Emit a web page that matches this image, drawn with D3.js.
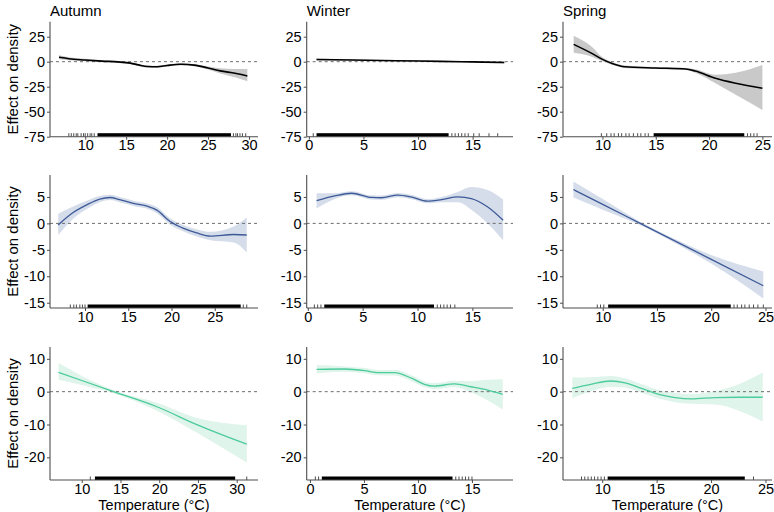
<!DOCTYPE html>
<html>
<head>
<meta charset="utf-8">
<script src="https://cdn.jsdelivr.net/npm/d3@7"></script>
<style>
  body { margin: 0; background: #fff; }
  svg { font-family: "Liberation Sans", Arial, sans-serif; }
</style>
</head>
<body>
<svg id="chart" width="774" height="512"></svg>
<script>
// season titles and row settings
const seasons = ['Autumn', 'Winter', 'Spring'];
const rowYTicks = [[-75, -50, -25, 0, 25], [-15, -10, -5, 0, 5], [-20, -10, 0, 10]];
const rowYDomain = [[-75, 40], [-16, 9.15], [-26.9, 13.6]];
const rowLine = ['#000000', '#3d5a98', '#4ccb9b'];
const rowBand = ['#c9c9c9', '#d5dcea', '#dff4ea'];

// x ticks per column / panel
const autumnTicks1 = [10, 15, 20, 25, 30];
const autumnTicks2 = [10, 15, 20, 25];
const winterTicks = [0, 5, 10, 15];
const springTicks = [10, 15, 20, 25];

// row 1
const a1T = [6.8, 8, 10, 12, 14, 15.5, 16.5, 17.6, 18.8, 20, 21.7, 23.3, 25, 26.5, 28.3, 29.8];
const a1Fit = [4.4, 3.0, 1.7, 0.6, -0.2, -1.4, -3.2, -4.8, -5.0, -3.8, -2.6, -3.4, -6.3, -9.2, -11.6, -14.3];
const a1Lo = [2.4, 1.5, 0.5, -0.4, -1.2, -2.4, -4.2, -5.8, -6.0, -4.8, -3.6, -4.5, -7.8, -11.7, -15.6, -19.5];
const a1Hi = [6.4, 4.5, 2.9, 1.6, 0.8, -0.4, -2.2, -3.8, -4.0, -2.8, -1.6, -2.3, -4.8, -6.5, -7.2, -7.3];

const w1T = [0.7, 4, 8, 12, 15, 17.9];
const w1Fit = [2.2, 1.7, 1.0, 0.3, -0.2, -0.8];
const w1Lo = [1.2, 1.0, 0.4, -0.3, -0.9, -1.9];
const w1Hi = [3.2, 2.4, 1.6, 0.9, 0.5, 0.3];

const s1T = [7.3, 9.0, 10.0, 10.9, 12.1, 15.0, 17.8, 18.7, 20.6, 22.5, 25.0];
const s1Fit = [17.3, 8.3, 2.3, -1.7, -5.0, -6.3, -7.3, -9.3, -16.6, -21.6, -26.6];
const s1Lo = [9.0, 5.0, 0.5, -3.0, -6.2, -7.3, -8.4, -11.0, -21.6, -33.0, -48.3];
const s1Hi = [26.0, 15.0, 4.5, -0.3, -3.8, -5.3, -6.2, -7.5, -13.0, -11.0, -3.3];

// row 2
const a2T = [6.9, 8.5, 10.2, 11.7, 12.9, 14.0, 15.6, 17.1, 18.3, 19.8, 21.4, 22.9, 24.5, 27.2, 28.7];
const a2Fit = [-0.3, 1.9, 3.5, 4.6, 4.9, 4.5, 3.8, 3.3, 2.5, 0.4, -0.95, -1.8, -2.4, -2.1, -2.2];
const a2Lo = [-2.2, 0.7, 2.7, 4.0, 4.4, 4.0, 3.3, 2.8, 1.9, -0.2, -1.55, -2.5, -3.2, -3.6, -5.5];
const a2Hi = [1.8, 3.1, 4.3, 5.2, 5.4, 5.0, 4.3, 3.8, 3.1, 1.0, -0.35, -1.1, -1.6, -0.6, 1.1];

const w2T = [0.8, 2.45, 4.0, 5.8, 6.7, 8.2, 9.4, 10.9, 12.2, 13.7, 14.9, 16.4, 17.8];
const w2Fit = [4.3, 5.2, 5.7, 4.9, 4.85, 5.35, 5.0, 4.2, 4.5, 5.0, 4.7, 3.1, 0.6];
const w2Lo = [2.8, 4.6, 5.3, 4.5, 4.45, 4.95, 4.6, 3.8, 4.0, 4.0, 2.6, 0.0, -3.2];
const w2Hi = [5.7, 5.7, 6.1, 5.3, 5.25, 5.75, 5.4, 4.6, 5.0, 6.0, 6.9, 6.3, 4.5];

const s2T = [7.3, 10, 13.45, 17, 20, 24.8];
const s2Fit = [6.4, 3.6, 0, -3.7, -6.8, -11.8];
const s2Lo = [4.9, 2.6, -0.3, -4.1, -7.6, -14.2];
const s2Hi = [7.9, 4.6, 0.3, -3.3, -6.0, -9.1];

// row 3
const a3T = [7.0, 10, 14.1, 19.7, 25, 31.3];
const a3Fit = [5.9, 3.4, 0, -4.6, -10.2, -16.0];
const a3Lo = [3.6, 2.0, -0.5, -5.8, -12.7, -21.6];
const a3Hi = [8.7, 4.8, 0.5, -3.4, -8.1, -10.2];

const w3T = [0.62, 3.2, 5.1, 6.3, 7.85, 9.4, 10.6, 11.5, 13.4, 14.9, 16.45, 17.85];
const w3Fit = [6.8, 6.9, 6.4, 5.8, 5.8, 4.1, 2.25, 1.7, 2.35, 1.5, 0.5, -0.8];
const w3Lo = [5.6, 6.1, 5.6, 5.0, 4.9, 3.2, 1.4, 0.8, 1.4, -0.2, -2.6, -5.4];
const w3Hi = [8.1, 7.7, 7.2, 6.6, 6.7, 5.0, 3.1, 2.6, 3.3, 3.2, 3.6, 3.8];

const s3T = [7.26, 8.95, 10.8, 12.1, 13.6, 15.2, 16.7, 18.2, 20.4, 22.5, 24.75];
const s3Fit = [1.0, 2.25, 3.25, 2.7, 1.0, -0.8, -1.8, -2.2, -1.8, -1.7, -1.7];
const s3Lo = [-2.0, 0.1, 1.5, 1.3, -0.3, -2.1, -3.2, -3.7, -3.9, -5.7, -9.1];
const s3Hi = [4.3, 4.4, 4.8, 4.1, 2.3, 0.5, -0.4, -0.7, 0.2, 2.2, 5.8];

// rug: dense stretches and single ticks (temperature)
const a1RugBand = [[11.5, 27.8]];
const a1RugTicks = [8.0, 8.3, 8.6, 8.9, 9.1, 9.5, 9.8, 10.0, 10.3, 10.6, 10.8, 11.1, 28.1, 28.4, 28.6, 28.9, 29.2, 29.6];
const w1RugBand = [[0.7, 12.8]];
const w1RugTicks = [0.4, 13.1, 13.4, 13.7, 14.0, 14.3, 14.6, 15.1, 15.6, 16.5, 17.3];
const s1RugBand = [[14.8, 23.3]];
const s1RugTicks = [9.9, 10.4, 10.8, 11.1, 11.5, 11.8, 12.2, 12.5, 12.9, 13.3, 13.6, 14.0, 14.3, 23.6, 23.9, 24.2, 24.5];
const a2RugBand = [[10.3, 28.0]];
const a2RugTicks = [8.3, 8.7, 9.0, 9.4, 9.7, 10.0, 28.3, 28.7];
const w2RugBand = [[1.5, 11.5]];
const w2RugTicks = [0.6, 0.9, 1.2, 11.8, 12.1, 12.4, 12.7, 13.0, 13.4];
const s2RugBand = [[10.5, 21.8]];
const s2RugTicks = [9.5, 9.8, 10.1, 22.1, 22.4, 22.8, 23.1, 23.5, 23.9, 24.3, 24.8];
const a3RugBand = [[11.7, 29.8]];
const a3RugTicks = [11.1, 31.3];
const w3RugBand = [[1.1, 13.2]];
const w3RugTicks = [0.5, 0.8, 13.5, 13.8, 14.1, 14.4, 14.7, 15.0];
const s3RugBand = [[10.5, 23.1]];
const s3RugTicks = [8.1, 8.4, 8.7, 9.0, 9.3, 9.6, 9.9, 10.2, 23.9];

// panel boxes (px)
const colX = [[50, 258], [306.7, 513], [563, 772]];
const rowY = [[21.7, 136.7], [175, 308], [347, 480]];

const panels = [
  { r: 0, c: 0, xd: [5.7, 31.1], xt: autumnTicks1, t: a1T, fit: a1Fit, lo: a1Lo, hi: a1Hi, rb: a1RugBand, rt: a1RugTicks },
  { r: 0, c: 1, xd: [-0.2, 18.7], xt: winterTicks, t: w1T, fit: w1Fit, lo: w1Lo, hi: w1Hi, rb: w1RugBand, rt: w1RugTicks },
  { r: 0, c: 2, xd: [6.3, 25.9], xt: springTicks, t: s1T, fit: s1Fit, lo: s1Lo, hi: s1Hi, rb: s1RugBand, rt: s1RugTicks },
  { r: 1, c: 0, xd: [5.95, 30.0], xt: autumnTicks2, t: a2T, fit: a2Fit, lo: a2Lo, hi: a2Hi, rb: a2RugBand, rt: a2RugTicks },
  { r: 1, c: 1, xd: [-0.1, 18.7], xt: winterTicks, t: w2T, fit: w2Fit, lo: w2Lo, hi: w2Hi, rb: w2RugBand, rt: w2RugTicks },
  { r: 1, c: 2, xd: [6.34, 25.6], xt: springTicks, t: s2T, fit: s2Fit, lo: s2Lo, hi: s2Hi, rb: s2RugBand, rt: s2RugTicks },
  { r: 2, c: 0, xd: [5.9, 32.75], xt: autumnTicks1, t: a3T, fit: a3Fit, lo: a3Lo, hi: a3Hi, rb: a3RugBand, rt: a3RugTicks },
  { r: 2, c: 1, xd: [-0.3, 18.8], xt: winterTicks, t: w3T, fit: w3Fit, lo: w3Lo, hi: w3Hi, rb: w3RugBand, rt: w3RugTicks },
  { r: 2, c: 2, xd: [6.4, 25.6], xt: springTicks, t: s3T, fit: s3Fit, lo: s3Lo, hi: s3Hi, rb: s3RugBand, rt: s3RugTicks }
];

const svg = d3.select('#chart');
const axisCol = '#4d4d4d';

panels.forEach((p) => {
  const [x0, x1] = colX[p.c];
  const [y0, y1] = rowY[p.r];
  const x = d3.scaleLinear().domain(p.xd).range([x0, x1]);
  const y = d3.scaleLinear().domain(rowYDomain[p.r]).range([y1, y0]);
  const g = svg.append('g');
  const rows = p.t.map((t, i) => ({ t: t, fit: p.fit[i], lo: p.lo[i], hi: p.hi[i] }));

  // band
  g.append('path')
    .datum(rows)
    .attr('fill', rowBand[p.r])
    .attr('d', d3.area().curve(d3.curveMonotoneX)
      .x((d) => x(d.t)).y0((d) => y(d.lo)).y1((d) => y(d.hi)));

  // zero line
  g.append('line')
    .attr('x1', x0).attr('x2', x1)
    .attr('y1', y(0)).attr('y2', y(0))
    .attr('stroke', '#6e6e6e').attr('stroke-width', 1)
    .attr('stroke-dasharray', '3,3');

  // fit
  g.append('path')
    .datum(rows)
    .attr('fill', 'none')
    .attr('stroke', rowLine[p.r])
    .attr('stroke-width', p.r === 0 ? 1.6 : 1.3)
    .attr('d', d3.line().curve(d3.curveMonotoneX).x((d) => x(d.t)).y((d) => y(d.fit)));

  // rug
  const rugH = 3.5;
  g.selectAll('rect.rug').data(p.rb).enter().append('rect')
    .attr('x', (d) => x(d[0])).attr('width', (d) => x(d[1]) - x(d[0]))
    .attr('y', y1 - rugH).attr('height', rugH)
    .attr('fill', '#000');
  g.selectAll('line.rug').data(p.rt).enter().append('line')
    .attr('x1', (d) => x(d)).attr('x2', (d) => x(d))
    .attr('y1', y1).attr('y2', y1 - rugH)
    .attr('stroke', '#000').attr('stroke-width', 0.7);

  // axes
  const yAxis = d3.axisLeft(y).tickValues(rowYTicks[p.r]).tickSize(3).tickPadding(2).tickFormat((d) => String(d));
  const xAxis = d3.axisBottom(x).tickValues(p.xt).tickSize(3).tickPadding(0.5).tickFormat((d) => String(d));
  const ya = g.append('g').attr('transform', `translate(${x0},0)`).call(yAxis);
  const xa = g.append('g').attr('transform', `translate(0,${y1})`).call(xAxis);
  [ya, xa].forEach((a) => {
    a.select('.domain').attr('stroke', axisCol).attr('stroke-width', 1.1);
    a.selectAll('.tick line').attr('stroke', axisCol);
    a.selectAll('.tick text').attr('fill', '#000').style('font-size', '14.5px');
  });
  ya.select('.domain').attr('d', `M0,${y0}V${y1}`);
  xa.select('.domain').attr('d', `M${x0},0H${x1}`);

  if (p.r === 0) {
    svg.append('text').attr('x', x0).attr('y', 16)
      .style('font-size', '15px').text(seasons[p.c]);
  }
  if (p.c === 0) {
    svg.append('text')
      .attr('transform', `translate(18,${(y0 + y1) / 2}) rotate(-90)`)
      .attr('text-anchor', 'middle')
      .style('font-size', '15px').text('Effect on density');
  }
  if (p.r === 2) {
    svg.append('text').attr('x', (x0 + x1) / 2).attr('y', 509.5)
      .attr('text-anchor', 'middle')
      .style('font-size', '14.5px').text('Temperature (°C)');
  }
});
</script>
</body>
</html>
